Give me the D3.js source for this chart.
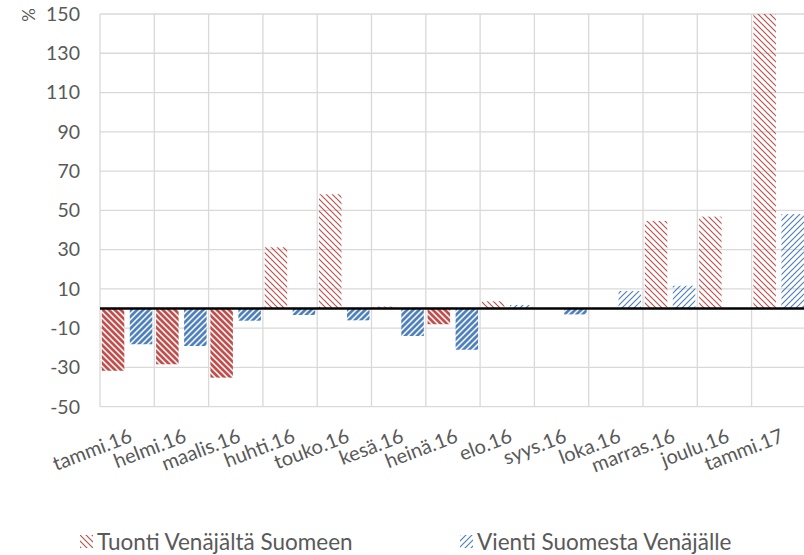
<!DOCTYPE html>
<html>
<head>
<meta charset="utf-8">
<script src="https://cdn.jsdelivr.net/npm/d3@7"></script>
<style>
  body { margin: 0; background: #fff; }
  text { font-family: Lato, "Open Sans", sans-serif; fill: #595959; }
</style>
</head>
<body>
<div id="chart"></div>
<script>
var width = 804, height = 555;

/* data */
var months = ["tammi.16", "helmi.16", "maalis.16", "huhti.16", "touko.16", "kesä.16", "heinä.16",
              "elo.16", "syys.16", "loka.16", "marras.16", "joulu.16", "tammi.17"];
var tuonti = [-31.7, -28.4, -35.2, 31.2, 58.2, 1.0, -8.0, 3.7, 0.0, 0.3, 44.6, 46.8, 150];
var vienti = [-18.2, -19.1, -6.2, -3.3, -6.0, -14.0, -21.0, 1.8, -3.0, 8.9, 11.6, 0, 48.1];
var yTicks = [-50, -30, -10, 10, 30, 50, 70, 90, 110, 130, 150];
var seriesNames = ["Tuonti Venäjältä Suomeen", "Vienti Suomesta Venäjälle"];
var colors = ["#c0504d", "#4f81bd"];

var svg = d3.select("#chart").append("svg").attr("width", width).attr("height", height);

var plotLeft = 100, catW = 54.3;
var x = d3.scaleBand().domain(months).range([plotLeft, plotLeft + catW * months.length]).padding(0);
var y = d3.scaleLinear().domain([-50, 150]).range([406.7, 14]);

/* patterns: dense for negatives, light for positives */
var defs = svg.append("defs");
colors.forEach(function(c, i) {
  var down = (i == 0); // red: "\"  blue: "/"
  var p = 6;
  var dense = defs.append("pattern").attr("id", "dense" + i)
      .attr("patternUnits", "userSpaceOnUse").attr("width", p).attr("height", p);
  dense.append("rect").attr("width", p).attr("height", p).attr("fill", c);
  var light = defs.append("pattern").attr("id", "light" + i)
      .attr("patternUnits", "userSpaceOnUse").attr("width", p).attr("height", p);
  var d = down
    ? "M0,0L6,6M-2,4L2,8M4,-2L8,2"
    : "M0,6L6,0M-2,2L2,-2M4,8L8,4";
  dense.append("path").attr("d", d).attr("stroke", "#fff").attr("stroke-width", 1.5);
  light.append("path").attr("d", d).attr("stroke", c).attr("stroke-width", 1.2);
});

/* grid */
svg.append("g").selectAll("line.h").data(yTicks).enter().append("line")
  .attr("x1", plotLeft).attr("x2", width + 20)
  .attr("y1", function(d) { return y(d); }).attr("y2", function(d) { return y(d); })
  .attr("stroke", "#d9d9d9").attr("stroke-width", 1.3);
var bounds = months.map(function(m) { return x(m); });
svg.append("g").selectAll("line.v").data(bounds).enter().append("line")
  .attr("x1", function(d) { return d; }).attr("x2", function(d) { return d; })
  .attr("y1", y(150)).attr("y2", y(-50))
  .attr("stroke", "#d9d9d9").attr("stroke-width", 1.3);

/* y labels */
svg.append("g").selectAll("text").data(yTicks).enter().append("text")
  .attr("x", 80).attr("y", function(d) { return y(d); })
  .attr("dy", "0.35em").attr("text-anchor", "end")
  .style("font-size", "19.5px")
  .text(function(d) { return d; });
svg.append("text").attr("transform", "translate(29,15) rotate(-90)")
  .attr("text-anchor", "middle").attr("dy", "0.35em").style("font-size", "17px").text("%");

/* bars */
var barW = 22.5, gapOut = 1.8, gapIn = 5.5;
[tuonti, vienti].forEach(function(vals, s) {
  svg.append("g").selectAll("rect").data(vals).enter().append("rect")
    .attr("x", function(d, i) { return x(months[i]) + gapOut + s * (barW + gapIn); })
    .attr("width", barW)
    .attr("y", function(d) { return y(Math.max(0, d)); })
    .attr("height", function(d) { return Math.abs(y(d) - y(0)); })
    .attr("fill", function(d) { return d < 0 ? "url(#dense" + s + ")" : "url(#light" + s + ")"; });
});

/* zero line */
svg.append("line").attr("x1", plotLeft).attr("x2", width)
  .attr("y1", y(0)).attr("y2", y(0))
  .attr("stroke", "#000").attr("stroke-width", 2.5);

/* x labels */
svg.append("g").selectAll("text").data(months).enter().append("text")
  .attr("transform", function(d) {
    return "translate(" + (x(d) + x.bandwidth() / 2 + 1) + "," + 428 + ") rotate(-21)";
  })
  .attr("text-anchor", "end").attr("dy", "0.72em")
  .style("font-size", "20px")
  .text(function(d) { return d; });

/* legend */
var legX = [80, 460];
seriesNames.forEach(function(n, i) {
  var g = svg.append("g").attr("transform", "translate(" + legX[i] + ",535)");
  g.append("rect").attr("width", 13).attr("height", 13).attr("fill", "url(#light" + i + ")");
  g.append("text").attr("x", 17).attr("y", 7).attr("dy", "0.36em")
    .style("font-size", "22.5px").text(n);
});
</script>
</body>
</html>
